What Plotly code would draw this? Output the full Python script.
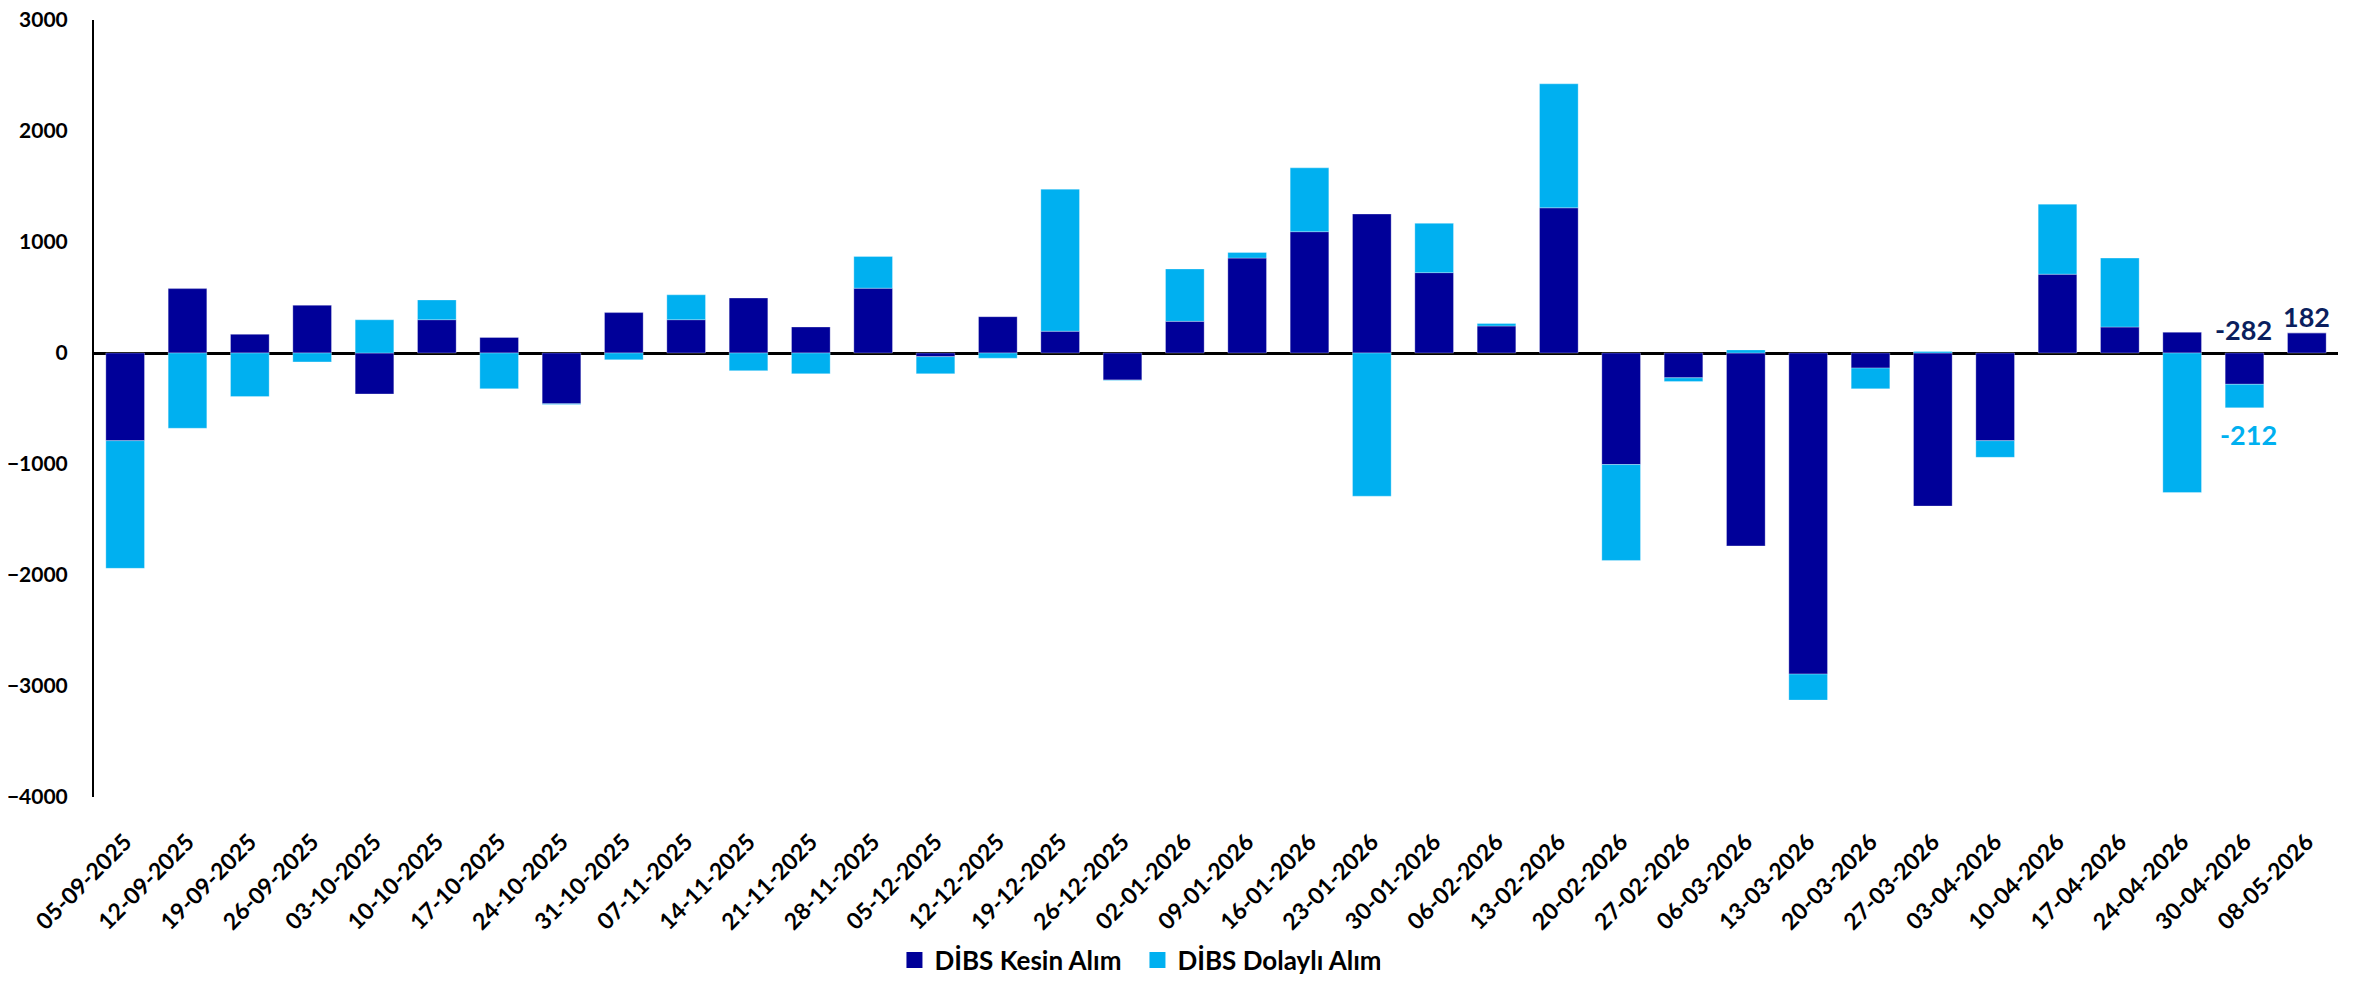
import plotly.graph_objects as go

dates = ["05-09-2025", "12-09-2025", "19-09-2025", "26-09-2025", "03-10-2025", "10-10-2025",
         "17-10-2025", "24-10-2025", "31-10-2025", "07-11-2025", "14-11-2025", "21-11-2025",
         "28-11-2025", "05-12-2025", "12-12-2025", "19-12-2025", "26-12-2025", "02-01-2026",
         "09-01-2026", "16-01-2026", "23-01-2026", "30-01-2026", "06-02-2026", "13-02-2026",
         "20-02-2026", "27-02-2026", "06-03-2026", "13-03-2026", "20-03-2026", "27-03-2026",
         "03-04-2026", "10-04-2026", "17-04-2026", "24-04-2026", "30-04-2026", "08-05-2026"]

kesin = [-790, 580, 168, 430, -369, 300, 140, -458, 364, 300, 495, 234,
         584, -33, 327, 196, -243, 285, 855, 1093, 1252, 724, 243, 1308,
         -1005, -224, -1738, -2893, -136, -1379, -790, 710, 234, 187, -282, 182]

dolayli = [-1150, -678, -393, -80, 299, 178, -322, -5, -61, 224, -159, -187,
           285, -154, -47, 1280, -5, 472, 51, 575, -1290, 444, 23, 1117,
           -864, -33, 28, -234, -187, 14, -150, 631, 621, -1257, -212, 0]

series_names = ["DİBS Kesin Alım", "DİBS Dolaylı Alım"]

NAVY = "#000099"
LIGHT = "#00B0F0"
FONT = "Lato"

fig = go.Figure()
fig.add_trace(go.Bar(x=dates, y=kesin, name=series_names[0], showlegend=False,
                     marker=dict(color=NAVY, line=dict(color="rgba(255,255,255,0.6)", width=0.5))))
fig.add_trace(go.Bar(x=dates, y=dolayli, name=series_names[1], showlegend=False,
                     marker=dict(color=LIGHT, line=dict(color="rgba(255,255,255,0.6)", width=0.5))))

# legend entries with larger square swatches
for nm, col in zip(series_names, [NAVY, LIGHT]):
    fig.add_trace(go.Scatter(x=[None], y=[None], mode="markers", name=nm,
                             marker=dict(symbol="square", size=16, color=col)))

# data labels for the last weeks
fig.add_annotation(x=dates[-2], y=0, text=f"{kesin[-2]}", showarrow=False,
                   yanchor="middle", yshift=24, xshift=-1,
                   font=dict(family=FONT, size=27, color="#0B1F5E", weight="bold"))
fig.add_annotation(x=dates[-1], y=kesin[-1], text=f"{kesin[-1]}", showarrow=False,
                   yanchor="middle", yshift=16,
                   font=dict(family=FONT, size=27, color="#0B1F5E", weight="bold"))
fig.add_annotation(x=dates[-2], y=kesin[-2] + dolayli[-2], text=f"{dolayli[-2]}", showarrow=False,
                   yanchor="middle", yshift=-27, xshift=4,
                   font=dict(family=FONT, size=27, color=LIGHT, weight="bold"))

fig.update_layout(
    width=2343, height=969,
    barmode="relative",
    bargap=0.38,
    plot_bgcolor="white", paper_bgcolor="white",
    margin=dict(l=86, r=13, t=12, b=180, autoexpand=False),
    font=dict(family=FONT, size=22, color="black", weight="bold"),
    legend=dict(orientation="h", x=0.465, xanchor="center", y=-0.21, yanchor="middle",
                font=dict(family=FONT, size=26, color="black", weight="bold"),
                itemwidth=30, tracegroupgap=0, entrywidth=198, entrywidthmode="pixels"),
    xaxis=dict(type="category", tickangle=-45, showline=False, showgrid=False,
               ticks="", ticklabelstandoff=26, automargin=False,
               tickfont=dict(family=FONT, size=23, color="black", weight="bold")),
    yaxis=dict(range=[-4000, 3000], dtick=1000, showgrid=False, showline=True,
               linecolor="black", linewidth=2, ticks="", ticklabelstandoff=20, automargin=False,
               ticklabeloverflow="allow",
               zeroline=True, zerolinecolor="black", zerolinewidth=2.5,
               tickfont=dict(family=FONT, size=21, color="black", weight="bold")),
)

fig.write_html("out.html")
